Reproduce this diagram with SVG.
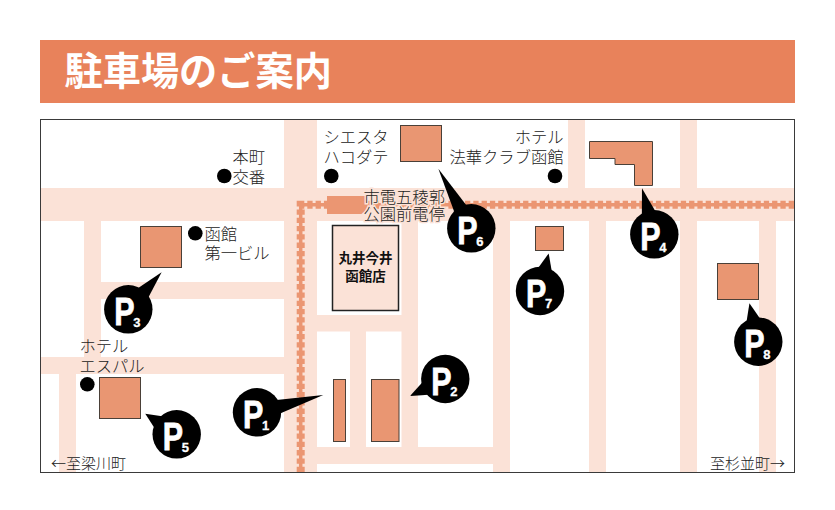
<svg xmlns="http://www.w3.org/2000/svg" width="835" height="510" viewBox="0 0 835 510">
<style>
.road{fill:#fbe2d7}
.bld{fill:#e99672;stroke:#4a4038;stroke-width:1}
.t{font-family:"Noto Sans CJK JP","Noto Sans",sans-serif;font-size:16.300px;fill:#222;font-weight:300}
.s{font-size:15px}
.h{paint-order:stroke;stroke:#fbe2d7;stroke-width:3px}
.b{font-family:"Noto Sans CJK JP",sans-serif;font-size:13.500px;font-weight:700;fill:#111;text-anchor:middle}
.p{font-family:"Liberation Sans",Arial,sans-serif;font-weight:700;font-size:38px;fill:#fff;stroke:#fff;stroke-width:.8}
.n{font-family:"Liberation Sans",Arial,sans-serif;font-weight:700;font-size:13px;fill:#fff;stroke:#fff;stroke-width:.3}
</style>
<defs>
<circle id="pc" r="24.200" fill="#000"/>
</defs>
<rect width="835" height="510" fill="#fff"/>
<g id="title">
<rect x="40" y="40" width="755" height="63" fill="#e8825b"/>
<text x="64.500" y="85" font-family="'Noto Sans CJK JP',sans-serif" font-size="38.200" font-weight="700" fill="#fff">駐車場のご案内</text>
</g>
<g id="roads">
<rect class="road" x="40" y="188" width="755" height="33"/>
<rect class="road" x="284" y="119" width="33" height="353"/>
<rect class="road" x="568" y="119" width="17" height="69"/>
<rect class="road" x="680" y="119" width="17" height="353"/>
<rect class="road" x="589" y="221" width="17" height="251"/>
<rect class="road" x="759" y="221" width="17" height="251"/>
<rect class="road" x="84" y="221" width="17" height="136"/>
<rect class="road" x="101" y="282" width="183" height="17"/>
<rect class="road" x="40" y="357" width="244" height="17"/>
<rect class="road" x="59" y="374" width="17" height="98"/>
<rect class="road" x="401.500" y="221" width="16.500" height="226"/>
<rect class="road" x="493" y="221" width="17" height="251"/>
<rect class="road" x="317" y="315" width="85" height="16.500"/>
<rect class="road" x="350" y="331" width="16" height="116"/>
<rect class="road" x="317" y="447" width="193" height="17"/>
</g>
<g id="rail" fill="none" stroke="#eb9672">
<path d="M300.700 472V204.700H795" stroke-width="3.500"/>
<path d="M300.700 472V204.700H795" stroke-width="8" stroke-dasharray="5.300 3"/>
<rect x="327" y="196" width="40" height="18" fill="#eb9672" stroke="none"/>
</g>
<g id="frame"><rect x="40.500" y="119.500" width="754" height="353" fill="none" stroke="#3a3a3a" stroke-width="1"/></g>
<g id="building-p1"><rect class="bld" x="333.500" y="379.500" width="12" height="62"/></g>
<g id="building-p2"><rect class="bld" x="371.500" y="379.500" width="27.500" height="62"/></g>
<g id="building-p3"><rect class="bld" x="140.500" y="226.500" width="41" height="41"/></g>
<g id="building-p4"><path class="bld" d="M589.500 141.500H652.500V185.500H634.500V164.500H615V158.500H589.500Z"/></g>
<g id="building-p5"><rect class="bld" x="99.500" y="377.500" width="41" height="41"/></g>
<g id="building-p6"><rect class="bld" x="400.500" y="125.500" width="41" height="36"/></g>
<g id="building-p7"><rect class="bld" x="535.500" y="226.500" width="28" height="24"/></g>
<g id="building-p8"><rect class="bld" x="717.500" y="263.500" width="41" height="36"/></g>
<g id="marui">
<rect x="332.500" y="225.500" width="66" height="85" fill="#fbe2d7" stroke="#222" stroke-width="1.500"/>
<text class="b" x="365.500" y="263">丸井今井</text>
<text class="b" x="365.500" y="281">函館店</text>
</g>
<g id="honcho"><circle cx="224.300" cy="176" r="7.300"/><text class="t" x="232.500" y="163">本町</text><text class="t" x="232.500" y="183">交番</text></g>
<g id="hakodate-daiichi"><circle cx="195.300" cy="233.300" r="7.300"/><text class="t" x="204.500" y="240">函館</text><text class="t" x="204.500" y="259">第一ビル</text></g>
<g id="siesta"><circle cx="331.300" cy="176" r="7.300"/><text class="t" x="323.500" y="143">シエスタ</text><text class="t" x="323.500" y="162.700">ハコダテ</text></g>
<g id="hokke"><circle cx="555" cy="176" r="7.300"/><text class="t" x="563.500" y="143" text-anchor="end">ホテル</text><text class="t" x="563.500" y="162.700" text-anchor="end">法華クラブ函館</text></g>
<g id="espal"><circle cx="87.300" cy="384.300" r="7.300"/><text class="t" x="79.500" y="352">ホテル</text><text class="t" x="79.500" y="372">エスパル</text></g>
<g id="station"><text class="t h" x="363.500" y="203">市電五稜郭</text><text class="t h" x="363.500" y="220">公園前電停</text></g>
<g id="dir-left"><text class="t s" x="51" y="468.500">←至梁川町</text></g>
<g id="dir-right"><text class="t s" x="710" y="468.500">至杉並町→</text></g>
<g id="pin1" transform="translate(257 412.300)"><use href="#pc"/><polygon points="22,-7 68.500,0 22,7" transform="rotate(-14.600)"/><text class="p" transform="translate(-14 15.700) scale(.8 1)">P</text><text class="n" x="5" y="17.400">1</text></g>
<g id="pin2" transform="translate(445.300 379)"><use href="#pc"/><polygon points="22,-7 39.200,0 22,7" transform="rotate(154.300)"/><text class="p" transform="translate(-14 15.700) scale(.8 1)">P</text><text class="n" x="5" y="17.400">2</text></g>
<g id="pin3" transform="translate(128.300 309.300)"><use href="#pc"/><polygon points="22,-7 49.800,0 22,7" transform="rotate(-48)"/><text class="p" transform="translate(-14 15.700) scale(.8 1)">P</text><text class="n" x="5" y="17.400">3</text></g>
<g id="pin4" transform="translate(654.300 234.300)"><use href="#pc"/><polygon points="22,-7 47.600,0 22,7" transform="rotate(-105)"/><text class="p" transform="translate(-14 15.700) scale(.8 1)">P</text><text class="n" x="5" y="17.400">4</text></g>
<g id="pin5" transform="translate(176.700 434.300)"><use href="#pc"/><polygon points="22,-7 37.600,0 22,7" transform="rotate(-146.700)"/><text class="p" transform="translate(-14 15.700) scale(.8 1)">P</text><text class="n" x="5" y="17.400">5</text></g>
<g id="pin6" transform="translate(471.300 228.300)"><use href="#pc"/><polygon points="22,-7 68,0 22,7" transform="rotate(-119)"/><text class="p" transform="translate(-14 15.700) scale(.8 1)">P</text><text class="n" x="5" y="17.400">6</text></g>
<g id="pin7" transform="translate(540 291)"><use href="#pc"/><polygon points="22,-7 38.600,0 22,7" transform="rotate(-77)"/><text class="p" transform="translate(-14 15.700) scale(.8 1)">P</text><text class="n" x="5" y="17.400">7</text></g>
<g id="pin8" transform="translate(758.300 341.700)"><use href="#pc"/><polygon points="22,-7 39.400,0 22,7" transform="rotate(-103)"/><text class="p" transform="translate(-14 15.700) scale(.8 1)">P</text><text class="n" x="5" y="17.400">8</text></g>
</svg>
